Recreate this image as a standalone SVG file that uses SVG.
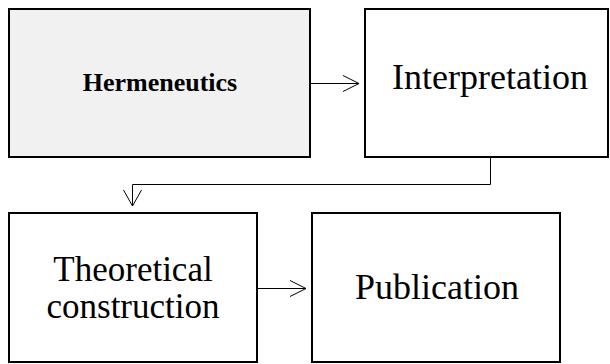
<svg xmlns="http://www.w3.org/2000/svg" width="610" height="364" viewBox="0 0 610 364">
<style>
.box{fill:#fff;stroke:#000;stroke-width:2}
.shade{fill:#f1f1f1}
.t{font-family:"Liberation Serif","Times New Roman",serif;font-size:36px;fill:#000;text-anchor:middle}
.t2{font-family:"Liberation Serif","Times New Roman",serif;font-size:35px;fill:#000;text-anchor:middle}
.b{font-family:"Liberation Serif","Times New Roman",serif;font-size:26px;font-weight:bold;fill:#000;text-anchor:middle}
.c{fill:none;stroke:#000;stroke-width:1}
</style>
<rect width="610" height="364" fill="#fff"/>
<g id="hermeneutics">
<rect class="box shade" x="9" y="9" width="301" height="148"/>
<text class="b" x="160" y="91">Hermeneutics</text>
</g>
<g id="interpretation">
<rect class="box" x="365" y="9" width="243" height="148"/>
<text class="t" x="490" y="89">Interpretation</text>
</g>
<g id="theoretical">
<rect class="box" x="9" y="213" width="248" height="149"/>
<text class="t2" x="133" y="281">Theoretical</text>
<text class="t2" x="133" y="318">construction</text>
</g>
<g id="publication">
<rect class="box" x="312" y="213" width="248" height="149"/>
<text class="t" x="437" y="299">Publication</text>
</g>
<g id="connectors">
<path class="c" d="M310 83.5H359M343 75.5L359 83.5L343 91.5"/>
<path class="c" d="M490.5 157V184.5H132.5V206M123.5 190L132.5 206L141.5 190"/>
<path class="c" d="M257 288.5H306M290 280.5L306 288.5L290 296.5"/>
</g>
</svg>
